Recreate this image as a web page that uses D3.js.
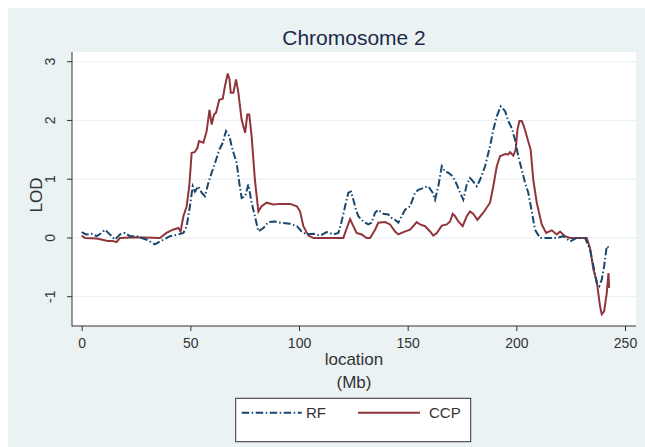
<!DOCTYPE html>
<meta charset="utf-8">
<script src="https://d3js.org/d3.v7.js"></script>
<style>
  body { margin: 0; background: #fff; }
  text { font-family: "Liberation Sans", Arial, sans-serif; }
</style>
<body>
<div id="chart"></div>
<script>
  // LOD profiles (location in Mb)
  const rfX = [0, 2, 4.6, 6.9, 9.2, 10.7, 13, 15.3, 17.6, 19.9, 22.2, 25.3, 29.9, 33.7, 36, 40.6, 44.5, 46.8, 48.3, 49.8,
    51.1, 52.1, 53.7, 55.2, 56.7, 58.3, 59.8, 61.4, 63.3, 64.9, 66.4, 68, 69, 70.1, 71.3, 72.5, 73.6, 75.2, 76.7, 78.2,
    79.7, 81.3, 83.6, 85.9, 89, 91.3, 95.9, 99, 101.2, 103.5, 106.6, 109.7, 112.7, 115.8, 118.1, 119.6, 121.2, 122.7,
    123.9, 125, 126.2, 127.3, 129.6, 131.9, 133.4, 135, 136.5, 138.8, 141.1, 142.6, 144.2, 145.7, 147.2, 148.8, 151.1,
    153.4, 154.9, 157.2, 159.5, 161.5, 162.6, 164.1, 165.7, 167.2, 168.7, 170.7, 172.6, 174.1, 175.6, 177.2, 178.7,
    180.2, 181.8, 183.3, 185.6, 187.9, 189.4, 191, 192.8, 194.8, 196.3, 197.9, 199.4, 200.9, 202.5, 204, 205.5, 207.1,
    208.6, 210.9, 213.2, 215.5, 218.6, 221.7, 224.7, 227.8, 231.6, 233.9, 235.5, 237, 238.2, 239.3, 240.4, 241.6, 242.7];
  const rfY = [0.1, 0.06, 0.07, 0.03, 0.085, 0.14, 0.06, -0.03, 0.06, 0.085, 0.03, 0.03, -0.03, -0.11, -0.06, 0.03, 0.06, 0.085, 0.2, 0.54,
    0.88, 0.79, 0.88, 0.77, 0.71, 0.94, 1.11, 1.28, 1.5, 1.62, 1.82, 1.73, 1.56, 1.42, 1.28, 0.94, 0.68, 0.71, 0.91, 0.6,
    0.37, 0.11, 0.17, 0.27, 0.28, 0.26, 0.24, 0.2, 0.11, 0.06, 0.07, 0.04, 0.1, 0.06, 0.085, 0.28, 0.54, 0.77,
    0.79, 0.65, 0.48, 0.37, 0.28, 0.23, 0.26, 0.43, 0.48, 0.41, 0.4, 0.34, 0.31, 0.26, 0.37, 0.48, 0.54,
    0.77, 0.82, 0.85, 0.88, 0.77, 0.65, 0.88, 1.22, 1.13, 1.11, 1.05, 0.91, 0.77, 0.65, 0.91, 1.02,
    0.96, 0.88, 0.99, 1.22, 1.56, 1.84, 2.07, 2.24, 2.16, 1.99, 1.87, 1.67, 1.39, 1.16, 0.94, 0.77, 0.45,
    0.14, 0, 0, 0, 0, 0.03, -0.06, 0, 0, -0.2, -0.48, -0.77, -0.82, -0.71, -0.48, -0.14, -0.17];

  const ccpX = [0, 1.5, 6.9, 12, 14, 16, 17.6, 25, 36, 39, 42, 44.5, 45.5, 46.8, 48.3, 49.5, 50.6, 52, 53.2, 54, 56, 57.5,
    58.8, 59.8, 60.9, 61.8, 63.3, 64.9, 65.9, 67.2, 68, 68.6, 69.8, 71, 72.1, 73.6, 75.2, 76.2, 77.1, 78.2, 79.7, 81.3,
    82.8, 85.1, 88.2, 91.3, 95.9, 99, 100.5, 102, 104.3, 106.6, 111, 120.4, 122, 123.5, 125, 126.5, 128.8, 131.1, 132.7,
    135, 136.5, 139.6, 141.9, 144.2, 145.7, 148, 151.1, 154.2, 155.7, 158, 160.3, 161.8, 163.4, 165.7, 168, 169.5, 170.7,
    171.8, 173.3, 175.3, 177.2, 178.7, 180.2, 182.1, 184.8, 187.9, 189.4, 191, 192.5, 194.8, 196.3, 197.1, 198.6, 199.7,
    200.5, 201.4, 202.5, 203.5, 204.8, 206.6, 207.8, 209.4, 211.7, 213.7, 216.3, 218.6, 220.1, 222.4, 224.7, 232.4, 233.9,
    235.5, 237, 238.5, 239.3, 240.4, 241.6, 242.4, 242.7];
  const ccpY = [0.04, 0, -0.01, -0.05, -0.05, -0.07, 0, 0.01, 0, 0.085, 0.14, 0.17, 0.11, 0.37, 0.54, 0.88, 1.45, 1.46, 1.53, 1.65, 1.62, 1.82,
    2.18, 1.93, 2.1, 2.13, 2.35, 2.37, 2.58, 2.8, 2.7, 2.47, 2.47, 2.7, 2.47, 2.01, 1.79, 2.1, 2.1, 1.73, 0.99, 0.45,
    0.54, 0.6, 0.57, 0.58, 0.58, 0.54, 0.45, 0.2, 0.04, 0, 0, 0, 0.17, 0.32, 0.2, 0.085, 0.06, 0, 0,
    0.14, 0.26, 0.27, 0.23, 0.11, 0.06, 0.1, 0.14, 0.27, 0.23, 0.2, 0.11, 0.04, 0.085, 0.21, 0.23, 0.28, 0.41,
    0.37, 0.28, 0.2, 0.37, 0.45, 0.41, 0.31, 0.43, 0.6, 0.88, 1.22, 1.39, 1.43, 1.42, 1.46, 1.4, 1.5,
    1.84, 1.99, 1.99, 1.9, 1.73, 1.5, 0.99, 0.6, 0.23, 0.085, 0.13, 0.06, 0.11, 0.03, 0, 0, -0.17,
    -0.54, -0.74, -1.16, -1.3, -1.25, -0.94, -0.6, -0.85];

  const xTicks = [0, 50, 100, 150, 200, 250];
  const yTicks = [-1, 0, 1, 2, 3];

  const width = 645, height = 447;
  const plot = {left: 72, right: 636, top: 52, bottom: 326};

  const svg = d3.select("#chart").append("svg")
    .attr("width", width).attr("height", height);

  // graph region + plot region
  svg.append("rect").attr("x", 8).attr("y", 8)
    .attr("width", width - 8).attr("height", height - 8)
    .attr("fill", "#eaf2f3");
  svg.append("rect").attr("x", plot.left).attr("y", plot.top)
    .attr("width", plot.right - plot.left).attr("height", plot.bottom - plot.top)
    .attr("fill", "#fff");

  const x = d3.scaleLinear().domain([0, 250]).range([81.7, 625]);
  const y = d3.scaleLinear().domain([-1, 3]).range([296.7, 61.7]);

  // grid
  svg.append("g").selectAll("line").data(yTicks).join("line")
    .attr("x1", plot.left).attr("x2", plot.right)
    .attr("y1", d => y(d)).attr("y2", d => y(d))
    .attr("stroke", "#eaf2f3").attr("stroke-width", 1.2);

  const line = d3.line().x(d => x(d[0])).y(d => y(d[1]));

  svg.append("path")
    .datum(ccpX.map((v, i) => [v, ccpY[i]]))
    .attr("d", line)
    .attr("fill", "none").attr("stroke", "#90353b").attr("stroke-width", 2);

  svg.append("path")
    .datum(rfX.map((v, i) => [v, rfY[i]]))
    .attr("d", line)
    .attr("fill", "none").attr("stroke", "#1a476f").attr("stroke-width", 2)
    .attr("stroke-dasharray", "7.5,2.5,1.5,2.5");

  // x axis
  const xAxis = svg.append("g")
    .attr("transform", `translate(0,${plot.bottom})`)
    .call(d3.axisBottom(x).tickValues(xTicks).tickSize(5).tickPadding(7));
  xAxis.select(".domain").remove();
  xAxis.selectAll("line").attr("stroke", "#333");
  xAxis.selectAll("text").style("font-size", "14px").attr("fill", "#333")
    .style("font-family", "'Liberation Sans', Arial, sans-serif");

  // y axis (rotated labels)
  const yAxis = svg.append("g");
  yAxis.selectAll("line").data(yTicks).join("line")
    .attr("x1", plot.left - 5).attr("x2", plot.left)
    .attr("y1", d => y(d)).attr("y2", d => y(d))
    .attr("stroke", "#333");
  yAxis.selectAll("text").data(yTicks).join("text")
    .attr("transform", d => `translate(50,${y(d)}) rotate(-90)`)
    .attr("text-anchor", "middle").attr("dy", "0.36em")
    .style("font-size", "14px").attr("fill", "#333")
    .text(d => d);

  svg.append("line").attr("x1", plot.left).attr("x2", plot.left)
    .attr("y1", plot.top).attr("y2", plot.bottom + 0.5).attr("stroke", "#333");
  svg.append("line").attr("x1", plot.left).attr("x2", plot.right)
    .attr("y1", plot.bottom).attr("y2", plot.bottom).attr("stroke", "#333");

  // titles
  svg.append("text").attr("x", 354).attr("y", 44.5)
    .attr("text-anchor", "middle").style("font-size", "21px").attr("fill", "#1c2a48")
    .text("Chromosome 2");
  svg.append("text").attr("transform", "translate(35.5,195) rotate(-90)")
    .attr("text-anchor", "middle").attr("dy", "0.36em")
    .style("font-size", "17px").attr("fill", "#333").text("LOD");
  svg.append("text").attr("x", 354).attr("y", 365)
    .attr("text-anchor", "middle").style("font-size", "17px").attr("fill", "#333").text("location");
  svg.append("text").attr("x", 354).attr("y", 388)
    .attr("text-anchor", "middle").style("font-size", "17px").attr("fill", "#333").text("(Mb)");

  // legend
  const legend = svg.append("g");
  legend.append("rect").attr("x", 235.7).attr("y", 398.3)
    .attr("width", 235).attr("height", 43.4)
    .attr("fill", "#fff").attr("stroke", "#333");
  legend.append("line").attr("x1", 241.7).attr("x2", 301.7).attr("y1", 412.7).attr("y2", 412.7)
    .attr("stroke", "#1a476f").attr("stroke-width", 2).attr("stroke-dasharray", "7.5,2.5,1.5,2.5");
  legend.append("text").attr("x", 306).attr("y", 418)
    .style("font-size", "15px").attr("fill", "#333").text("RF");
  legend.append("line").attr("x1", 358).attr("x2", 420).attr("y1", 412.7).attr("y2", 412.7)
    .attr("stroke", "#90353b").attr("stroke-width", 2);
  legend.append("text").attr("x", 429).attr("y", 418)
    .style("font-size", "15px").attr("fill", "#333").text("CCP");
</script>
</body>
